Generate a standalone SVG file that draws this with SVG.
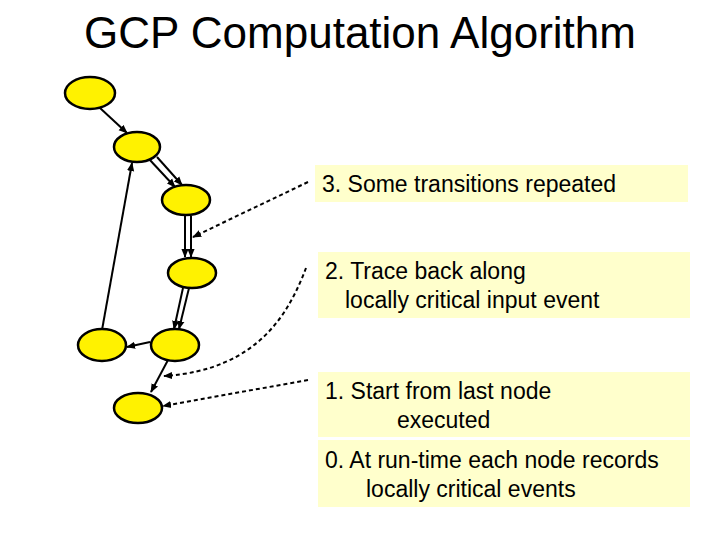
<svg xmlns="http://www.w3.org/2000/svg" width="720" height="540" viewBox="0 0 720 540">
<defs>
<style>
.n{fill:#FFF200;stroke:#000;stroke-width:2.5}
.e{stroke:#000;stroke-width:2;fill:none;marker-end:url(#a)}
.d{stroke:#000;stroke-width:2;fill:none;stroke-dasharray:4,3;marker-end:url(#a)}
.b{fill:#FFFFCC}
.t{font-family:"Liberation Sans",Arial,sans-serif;font-size:23px;fill:#000}
</style>
<marker id="a" viewBox="0 0 10 10" refX="9" refY="5" markerWidth="4.5" markerHeight="4.5" orient="auto"><path d="M0,1 L10,5 L0,9 z" fill="#000"/></marker>
</defs>
<rect width="720" height="540" fill="#fff"/>
<text x="360" y="48" text-anchor="middle" font-family="Liberation Sans,Arial,sans-serif" font-size="44">GCP Computation Algorithm</text>
<g id="box3"><rect class="b" x="315" y="165" width="373" height="37"/><text class="t" x="322" y="192">3. Some transitions repeated</text></g>
<g id="box2"><rect class="b" x="318" y="252" width="372" height="66"/><text class="t" x="325" y="279">2. Trace back along</text><text class="t" x="345" y="308">locally critical input event</text></g>
<g id="box1"><rect class="b" x="318" y="372" width="372" height="65"/><text class="t" x="325" y="399">1. Start from last node</text><text class="t" x="397" y="428">executed</text></g>
<g id="box0"><rect class="b" x="318" y="440" width="372" height="67"/><text class="t" x="325" y="468">0. At run-time each node records</text><text class="t" x="366" y="497">locally critical events</text></g>
<g id="connectors">
<line class="e" x1="100" y1="108" x2="127" y2="133"/>
<line class="e" x1="149" y1="159" x2="175" y2="187"/>
<line class="e" x1="157" y1="157" x2="182" y2="185"/>
<line class="e" x1="185" y1="216" x2="185" y2="257"/>
<line class="e" x1="191" y1="216" x2="191" y2="257"/>
<line class="e" x1="183" y1="288" x2="174" y2="329"/>
<line class="e" x1="189" y1="288" x2="179" y2="329"/>
<line class="e" x1="150" y1="342" x2="127" y2="347"/>
<line class="e" x1="102" y1="330" x2="132" y2="163"/>
<line class="e" x1="168" y1="360" x2="151" y2="392"/>
<path class="d" d="M308,182 L193,237"/>
<path class="d" d="M306,268 C290,310 260,370 164,376"/>
<path class="d" d="M308,380 L163,406"/>
</g>
<g id="n1"><ellipse class="n" cx="90" cy="93" rx="25" ry="16"/></g>
<g id="n2"><ellipse class="n" cx="137" cy="147" rx="23" ry="15"/></g>
<g id="n3"><ellipse class="n" cx="186" cy="200" rx="24" ry="15"/></g>
<g id="n4"><ellipse class="n" cx="192" cy="273" rx="24" ry="15"/></g>
<g id="n5"><ellipse class="n" cx="102" cy="345" rx="24" ry="16"/></g>
<g id="n6"><ellipse class="n" cx="175" cy="345" rx="24" ry="16"/></g>
<g id="n7"><ellipse class="n" cx="138" cy="408" rx="24" ry="15"/></g>
</svg>
